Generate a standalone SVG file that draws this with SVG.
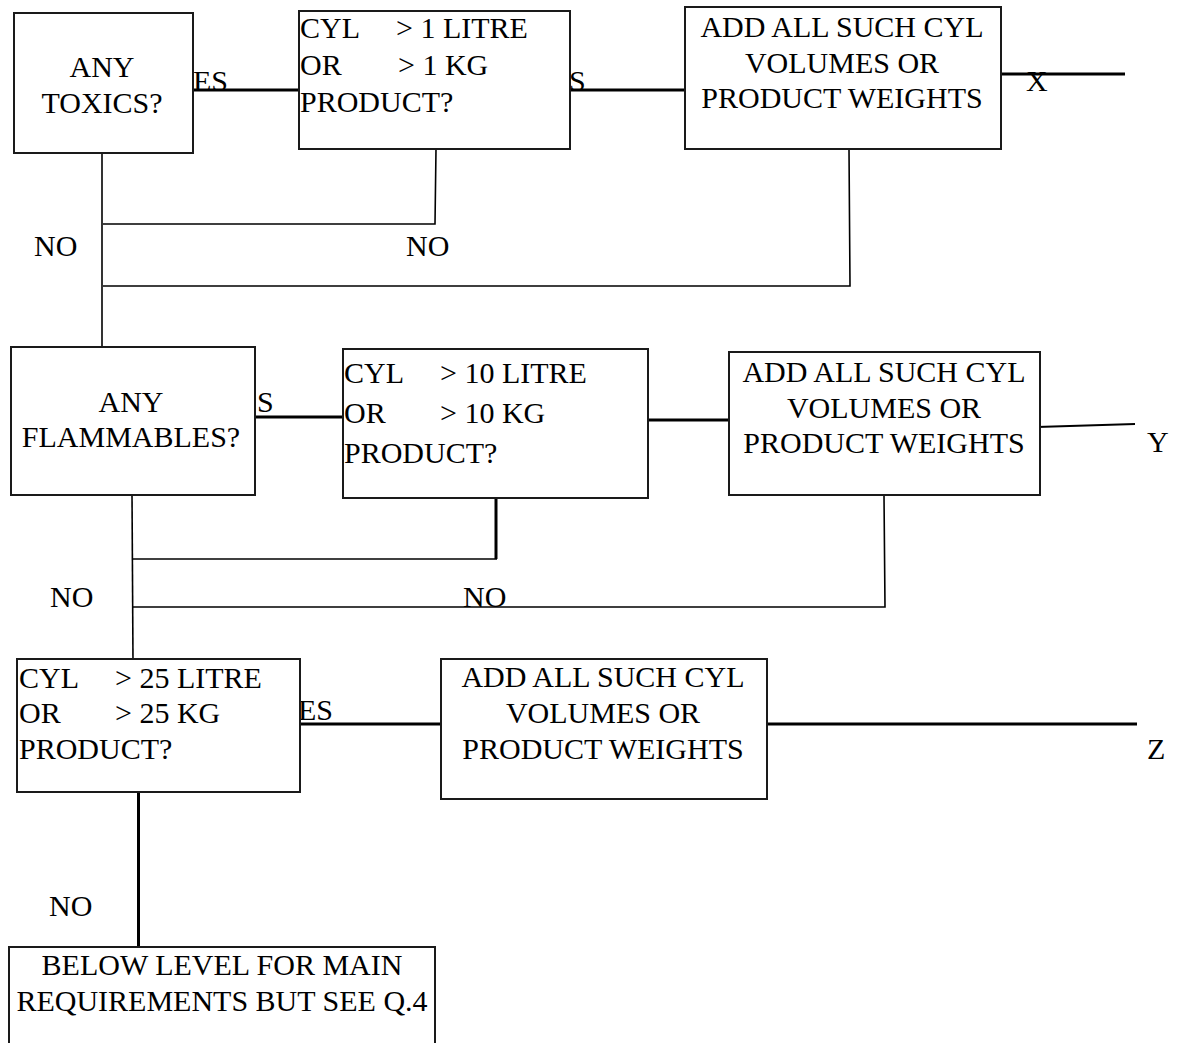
<svg xmlns="http://www.w3.org/2000/svg" width="1178" height="1043" viewBox="0 0 1178 1043">
<style>
.box{fill:#fff;stroke:#1a1a1a;stroke-width:2}
.t{font-family:"Liberation Serif","Times New Roman",serif;font-size:30px;fill:#000}
.c{text-anchor:middle}
.thin{stroke:#000;stroke-width:1.6;fill:none}
.thick{stroke:#000;stroke-width:3;fill:none}
</style>
<rect width="1178" height="1043" fill="#fff"/>
<g id="connectors">
<line class="thick" x1="193" y1="90" x2="304" y2="90"/>
<line class="thick" x1="570" y1="90" x2="685" y2="90"/>
<line class="thick" x1="998" y1="74" x2="1125" y2="74"/>
<polyline class="thin" points="102,153 102,347"/>
<polyline class="thin" points="436,149 435,224 103,224"/>
<polyline class="thin" points="849,149 850,286 103,286"/>
<line class="thick" x1="251" y1="417" x2="343" y2="417"/>
<line class="thick" x1="643" y1="420" x2="729" y2="420"/>
<line class="thin" x1="1037" y1="427" x2="1135" y2="424" style="stroke-width:2"/>
<polyline class="thin" points="132,494 133,660"/>
<polyline class="thick" points="496,497 496,559"/>
<line class="thin" x1="132" y1="559" x2="497" y2="559"/>
<polyline class="thin" points="884,495 885,607 132,607"/>
<line class="thick" x1="300" y1="724" x2="441" y2="724"/>
<line class="thick" x1="763" y1="724" x2="1137" y2="724"/>
<line class="thick" x1="138.5" y1="789" x2="138.5" y2="947"/>
</g>
<g id="labels">
<text class="t" x="193" y="91">ES</text>
<text class="t" x="569" y="91">S</text>
<text class="t" x="1026" y="91">X</text>
<text class="t" x="34" y="256">NO</text>
<text class="t" x="406" y="256">NO</text>
<text class="t" x="257" y="412">S</text>
<text class="t" x="1147" y="452">Y</text>
<text class="t" x="50" y="607">NO</text>
<text class="t" x="463" y="607">NO</text>
<text class="t" x="298" y="720">ES</text>
<text class="t" x="1147" y="759">Z</text>
<text class="t" x="49" y="916">NO</text>
</g>
<g id="n1">
<rect class="box" x="14" y="13" width="179" height="140"/>
<text class="t c" x="102" y="77">ANY</text>
<text class="t c" x="102" y="113">TOXICS?</text>
</g>
<g id="n2">
<rect class="box" x="299" y="11" width="271" height="138"/>
<text class="t" y="38"><tspan x="300">CYL</tspan><tspan x="396">&gt; 1 LITRE</tspan></text>
<text class="t" y="75"><tspan x="300">OR</tspan><tspan x="398">&gt; 1 KG</tspan></text>
<text class="t" x="300" y="112">PRODUCT?</text>
</g>
<g id="n3">
<rect class="box" x="685" y="7" width="316" height="142"/>
<text class="t c" x="842" y="37">ADD ALL SUCH CYL</text>
<text class="t c" x="842" y="73">VOLUMES OR</text>
<text class="t c" x="842" y="108">PRODUCT WEIGHTS</text>
</g>
<g id="n4">
<rect class="box" x="11" y="347" width="244" height="148"/>
<text class="t c" x="131" y="412">ANY</text>
<text class="t c" x="131" y="447">FLAMMABLES?</text>
</g>
<g id="n5">
<rect class="box" x="343" y="349" width="305" height="149"/>
<text class="t" y="383"><tspan x="344">CYL</tspan><tspan x="440">&gt; 10 LITRE</tspan></text>
<text class="t" y="423"><tspan x="344">OR</tspan><tspan x="440">&gt; 10 KG</tspan></text>
<text class="t" x="344" y="463">PRODUCT?</text>
</g>
<g id="n6">
<rect class="box" x="729" y="352" width="311" height="143"/>
<text class="t c" x="884" y="382">ADD ALL SUCH CYL</text>
<text class="t c" x="884" y="418">VOLUMES OR</text>
<text class="t c" x="884" y="453">PRODUCT WEIGHTS</text>
</g>
<g id="n7">
<rect class="box" x="17" y="659" width="283" height="133"/>
<text class="t" y="688"><tspan x="19">CYL</tspan><tspan x="115">&gt; 25 LITRE</tspan></text>
<text class="t" y="723"><tspan x="19">OR</tspan><tspan x="115">&gt; 25 KG</tspan></text>
<text class="t" x="19" y="759">PRODUCT?</text>
</g>
<g id="n8">
<rect class="box" x="441" y="659" width="326" height="140"/>
<text class="t c" x="603" y="687">ADD ALL SUCH CYL</text>
<text class="t c" x="603" y="723">VOLUMES OR</text>
<text class="t c" x="603" y="759">PRODUCT WEIGHTS</text>
</g>
<g id="n9">
<rect class="box" x="9" y="947" width="426" height="110"/>
<text class="t c" x="222" y="975">BELOW LEVEL FOR MAIN</text>
<text class="t c" x="222" y="1011">REQUIREMENTS BUT SEE Q.4</text>
</g>
</svg>
